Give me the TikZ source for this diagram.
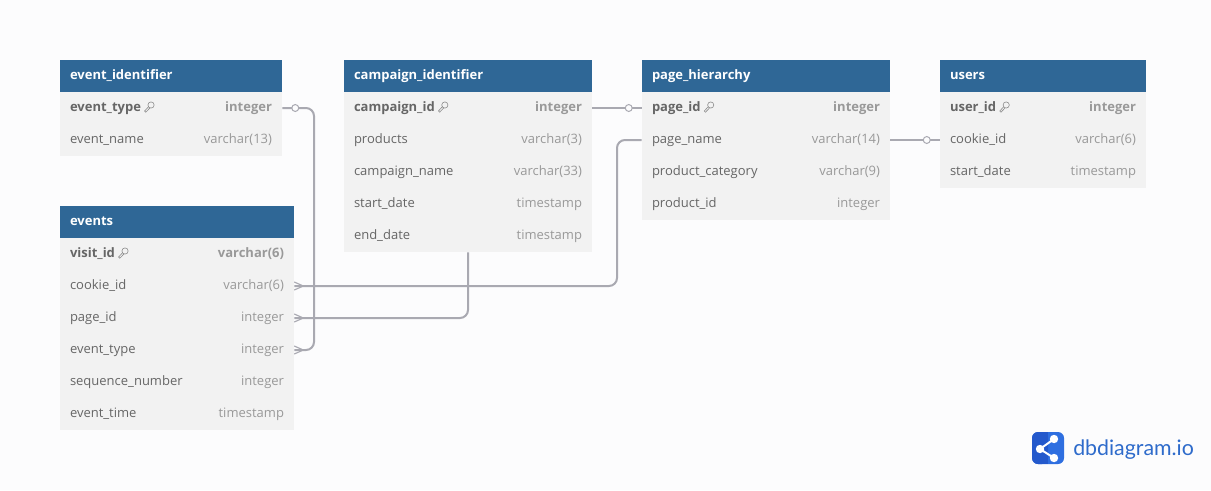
\documentclass[tikz,border=0pt]{standalone}
\usepackage{fontspec}
\setmainfont{Open Sans}
\newfontfamily\logofont{Lato}
\usetikzlibrary{calc}
\definecolor{pagebg}{HTML}{FCFCFD}
\definecolor{headbg}{HTML}{2F6796}
\definecolor{rowbg}{HTML}{F2F2F2}
\definecolor{fieldc}{HTML}{666666}
\definecolor{typec}{HTML}{999999}
\definecolor{linkc}{HTML}{A9A9B1}
\definecolor{logoa}{HTML}{2F6FE0}
\definecolor{logob}{HTML}{2459CC}
\definecolor{logot}{HTML}{2E6BCB}
\tikzset{
  x=0.75pt,y=-0.75pt,
  headbox/.style={fill=headbg,draw=none,inner sep=0pt,minimum height=24pt},
  rowbox/.style={fill=rowbg,draw=none,inner sep=0pt,minimum height=24pt},
  headtxt/.style={anchor=base west,inner sep=0pt,text=white,font=\fontsize{9.75}{12}\selectfont\bfseries},
  fieldtxt/.style={anchor=base west,inner sep=0pt,text=fieldc,font=\fontsize{9.75}{12}\selectfont},
  keytxt/.style={anchor=base west,inner sep=0pt,text=fieldc,font=\fontsize{9.75}{12}\selectfont\bfseries},
  typetxt/.style={anchor=base east,inner sep=0pt,text=typec,font=\fontsize{9.75}{12}\selectfont},
  keytype/.style={anchor=base east,inner sep=0pt,text=typec,font=\fontsize{9.75}{12}\selectfont\bfseries},
  link/.style={draw=linkc,line width=1.5pt,rounded corners=6pt},
  onemark/.style={circle,draw=linkc,fill=pagebg,line width=0.75pt,inner sep=0pt,minimum size=5.2pt},
  crow/.style={draw=linkc,line width=0.85pt},
  keyicon/.style={draw=fieldc!75,line width=0.45pt},
}
% #1 name, #2 left, #3 width, #4 top, #5 title
\newcommand{\dbhead}[5]{%
  \node[headbox,minimum width=#3*0.75pt] (#1) at (#2+#3/2,#4+16) {};
  \node[headtxt] (#1-t) at ($(#1.west)+(10,3)$) {#5};
}
% #1 name, #2 left, #3 width, #4 top, #5 field, #6 type
\newcommand{\dbrow}[6]{%
  \node[rowbox,minimum width=#3*0.75pt] (#1) at (#2+#3/2,#4+16) {};
  \node[fieldtxt] (#1-f) at ($(#1.west)+(10,3)$) {#5};
  \node[typetxt] (#1-y) at ($(#1.east)+(-10,3)$) {#6};
}
\newcommand{\dbkey}[6]{%
  \node[rowbox,minimum width=#3*0.75pt] (#1) at (#2+#3/2,#4+16) {};
  \node[keytxt] (#1-f) at ($(#1.west)+(10,3)$) {#5};
  \node[keytype] (#1-y) at ($(#1.east)+(-10,3)$) {#6};
  \coordinate (#1-k) at (#1-f.east |- #1.center);
  \draw[keyicon] ($(#1-k)+(9.8,-3)$) circle[radius=3.1];
  \draw[keyicon] ($(#1-k)+(7.4,-1.4)$) -- ($(#1-k)+(3.4,3)$) -- ($(#1-k)+(4.6,4.2)$) -- ($(#1-k)+(8.6,0)$);
}
\newcommand{\crowfoot}[1]{%
  \draw[crow] ($(#1.east)+(0,-4)$) -- ($(#1.east)+(9,0)$) -- ($(#1.east)+(0,4)$);
}
\begin{document}
\begin{tikzpicture}
\useasboundingbox (0,0) rectangle (1211,490);
\fill[pagebg] (0,0) rectangle (1211,490);

\dbhead{ei}{60}{222}{60}{event\_identifier}
\dbkey{ei1}{60}{222}{92}{event\_type}{integer}
\dbrow{ei2}{60}{222}{124}{event\_name}{varchar(13)}

\dbhead{ci}{344}{248}{60}{campaign\_identifier}
\dbkey{ci1}{344}{248}{92}{campaign\_id}{integer}
\dbrow{ci2}{344}{248}{124}{products}{varchar(3)}
\dbrow{ci3}{344}{248}{156}{campaign\_name}{varchar(33)}
\dbrow{ci4}{344}{248}{188}{start\_date}{timestamp}
\dbrow{ci5}{344}{248}{220}{end\_date}{timestamp}

\dbhead{ph}{642}{248}{60}{page\_hierarchy}
\dbkey{ph1}{642}{248}{92}{page\_id}{integer}
\dbrow{ph2}{642}{248}{124}{page\_name}{varchar(14)}
\dbrow{ph3}{642}{248}{156}{product\_category}{varchar(9)}
\dbrow{ph4}{642}{248}{188}{product\_id}{integer}

\dbhead{us}{940}{206}{60}{users}
\dbkey{us1}{940}{206}{92}{user\_id}{integer}
\dbrow{us2}{940}{206}{124}{cookie\_id}{varchar(6)}
\dbrow{us3}{940}{206}{156}{start\_date}{timestamp}

\dbhead{ev}{60}{234}{206}{events}
\dbkey{ev1}{60}{234}{238}{visit\_id}{varchar(6)}
\dbrow{ev2}{60}{234}{270}{cookie\_id}{varchar(6)}
\dbrow{ev3}{60}{234}{302}{page\_id}{integer}
\dbrow{ev4}{60}{234}{334}{event\_type}{integer}
\dbrow{ev5}{60}{234}{366}{sequence\_number}{integer}
\dbrow{ev6}{60}{234}{398}{event\_time}{timestamp}

% connectors
\coordinate (b1) at (314,0);
\coordinate (b2) at (617,0);
\draw[link] (ei1.east) -- (b1 |- ei1.east) -- (b1 |- ev4.east) -- (ev4.east);
\draw[link] (ph2.west) -- (b2 |- ph2.west) -- (b2 |- ev2.east) -- (ev2.east);
\draw[link] (ci5.south) -- (ci5.south |- ev3.east) -- (ev3.east);
\draw[link] (ci1.east) -- (ph1.west);
\draw[link] (ph2.east) -- (us2.west);

\node[onemark] (m1) at ($(ei1.east)+(13,0)$) {};
\node[onemark] (m2) at ($(ph1.west)+(-13,0)$) {};
\node[onemark] (m3) at ($(us2.west)+(-13,0)$) {};
\crowfoot{ev2}
\crowfoot{ev3}
\crowfoot{ev4}

% logo
\fill[logoa,rounded corners=4.5pt] (1032,432) rectangle (1064,464);
\fill[logob,rounded corners=4.5pt] (1032,432) rectangle (1048,464);
\fill[logob] (1043,432) rectangle (1048,464);
\draw[white,line width=1.5pt] (1054,439) -- (1040,449) -- (1054,458);
\fill[white] (1040,449) circle[radius=4.2];
\fill[white] (1054,439) circle[radius=4.2];
\fill[white] (1054,458) circle[radius=4.2];
\node[anchor=base west,inner sep=0pt,text=logot,font=\logofont\fontsize{16}{18}\selectfont] (logo) at (1073,455) {dbdiagram.io};
\end{tikzpicture}
\end{document}
